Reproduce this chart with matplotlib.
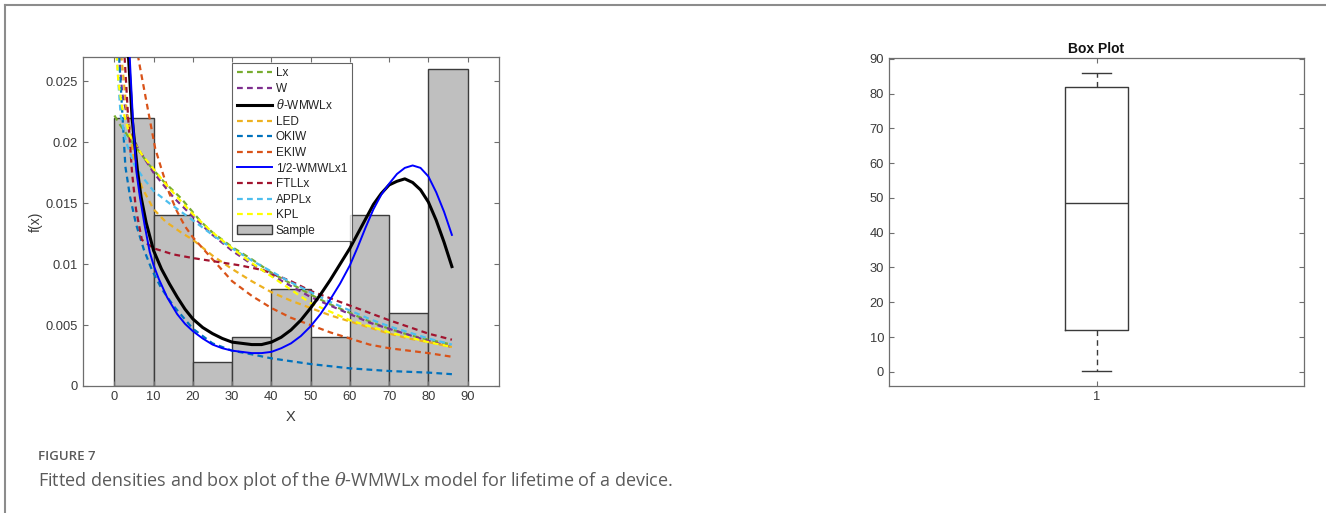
import numpy as np
import matplotlib
matplotlib.use("Agg")
import matplotlib.pyplot as plt
from matplotlib.lines import Line2D
from matplotlib.patches import Patch

plt.rcParams["font.family"] = ["Liberation Sans", "DejaVu Sans"]
plt.rcParams["mathtext.fontset"] = "dejavuserif"

# lifetimes of 50 devices
lifetimes = [0.1, 0.2, 1, 1, 1, 1, 1, 2, 3, 6, 7, 11, 12, 18, 18, 18, 18, 18,
             21, 32, 36, 40, 45, 46, 47, 50, 55, 60, 63, 63, 67, 67, 67, 67,
             72, 75, 79, 82, 82, 83, 84, 84, 84, 85, 85, 85, 85, 85, 86, 86]
bin_edges = [0, 10, 20, 30, 40, 50, 60, 70, 80, 90]

# fitted densities, sampled along x
lx_x = [0, 1.5, 5, 9, 12.5, 17, 22, 25, 30, 35, 40, 45, 50, 55, 60, 65, 70, 75, 80, 86]
lx_y = [0.0222, 0.0214, 0.0198, 0.0181, 0.0168, 0.0154, 0.0135, 0.0126, 0.0114, 0.0104,
        0.0093, 0.0084, 0.0075, 0.0067, 0.0060, 0.0053, 0.0047, 0.0042, 0.0038, 0.0034]

w_x = [1.0, 2, 4, 6, 10, 15, 20, 25, 30, 35, 40, 45, 50, 55, 60, 65, 70, 75, 80, 86]
w_y = [0.028, 0.024, 0.021, 0.0195, 0.0175, 0.0155, 0.0139, 0.0124, 0.0111, 0.0100,
       0.0091, 0.0082, 0.0073, 0.0066, 0.0059, 0.0052, 0.0047, 0.0042, 0.0037, 0.0032]

theta_x = [3.3, 3.6, 4.5, 5.9, 6.8, 8.1, 10, 12, 14, 16, 18, 20, 22.5, 25, 27.5, 30,
           32.5, 35, 37.5, 40, 42.5, 45, 47.5, 50, 52.5, 55, 57.5, 60, 62, 64, 66, 68,
           70, 72, 74, 76, 78, 80, 82, 84, 86]
theta_y = [0.029, 0.027, 0.022, 0.0176, 0.0155, 0.0134, 0.0111, 0.0096, 0.0084, 0.0073,
           0.0063, 0.0055, 0.0048, 0.0043, 0.0039, 0.0036, 0.0035, 0.0034, 0.0034, 0.0036,
           0.0040, 0.0046, 0.0054, 0.0064, 0.0075, 0.0087, 0.0100, 0.0113, 0.0125, 0.0137,
           0.0149, 0.0158, 0.0165, 0.0168, 0.0170, 0.0167, 0.0161, 0.0151, 0.0136, 0.0118,
           0.0098]

led_x = [1.5, 3, 5, 7, 10, 13, 17, 20, 25, 30, 35, 40, 45, 50, 55, 60, 65, 70, 75, 80, 86]
led_y = [0.028, 0.023, 0.0185, 0.0163, 0.0145, 0.0135, 0.0126, 0.0120, 0.0107, 0.0096,
         0.0086, 0.0077, 0.0070, 0.0064, 0.0058, 0.0053, 0.0048, 0.0043, 0.0039, 0.0036, 0.0032]

okiw_x = [1.2, 2, 2.8, 4, 5.5, 7.5, 9.6, 12, 15, 20, 25, 30, 35, 40, 50, 60, 70, 80, 86]
okiw_y = [0.027, 0.0225, 0.018, 0.0155, 0.0133, 0.0112, 0.0095, 0.0080, 0.0066, 0.0047,
          0.0035, 0.0029, 0.0026, 0.00227, 0.0018, 0.00145, 0.00123, 0.0011, 0.00097]

ekiw_x = [5.5, 6.5, 8.3, 10.4, 12, 14, 16, 18, 20, 25, 30, 35, 40, 45, 50, 55, 60, 65,
          70, 75, 80, 86]
ekiw_y = [0.028, 0.0262, 0.0231, 0.0195, 0.0178, 0.0158, 0.0143, 0.0131, 0.0122, 0.0104,
          0.0086, 0.0074, 0.0064, 0.0056, 0.0050, 0.0044, 0.0039, 0.0034, 0.0031, 0.0029,
          0.0027, 0.0024]

half_x = [3.6, 3.9, 4.7, 5.6, 6.5, 7.7, 9, 10, 11.3, 13.4, 16, 18, 20, 22.5, 25, 27.5,
          30, 32.5, 35, 37.5, 40, 42.5, 45, 47.5, 50, 52.5, 55, 57.5, 60, 62, 64, 66, 68,
          70, 72, 74, 76, 78, 80, 82, 84, 86]
half_y = [0.029, 0.027, 0.022, 0.0176, 0.0155, 0.0132, 0.0110, 0.0099, 0.0088, 0.0073,
          0.0059, 0.0051, 0.0045, 0.0039, 0.0034, 0.0031, 0.0029, 0.0028, 0.0027, 0.0027,
          0.0028, 0.0031, 0.0035, 0.0041, 0.0049, 0.0059, 0.0071, 0.0084, 0.0099, 0.0114,
          0.0130, 0.0145, 0.0157, 0.0166, 0.0174, 0.0179, 0.0181, 0.0179, 0.0172, 0.0159,
          0.0143, 0.0124]

ftllx_x = [2.6, 3.5, 4.5, 5.5, 7, 10, 15, 20, 26, 32, 38, 45, 50, 60, 70, 80, 86]
ftllx_y = [0.027, 0.022, 0.0175, 0.0145, 0.0120, 0.0113, 0.0108, 0.0105, 0.0102, 0.0099,
           0.0095, 0.0086, 0.0078, 0.0066, 0.0054, 0.0043, 0.0038]

appl_x = [0.6, 1.0, 1.6, 3, 5, 7.5, 10, 14, 17, 20, 25, 30, 35, 40, 45, 50, 55, 60, 65,
          70, 75, 80, 86]
appl_y = [0.028, 0.025, 0.0222, 0.0200, 0.0182, 0.0170, 0.0160, 0.0150, 0.0143, 0.0136,
          0.0124, 0.0113, 0.0103, 0.0094, 0.0085, 0.0077, 0.0069, 0.0062, 0.0055, 0.0049,
          0.0044, 0.0039, 0.0034]

kpl_x = [0.4, 1, 2, 4, 7, 10, 13, 16, 20, 25, 30, 35, 40, 45, 50, 55, 60, 65, 70, 75, 80, 86]
kpl_y = [0.028, 0.025, 0.0228, 0.0205, 0.0190, 0.0178, 0.0166, 0.0155, 0.0141, 0.0126,
         0.0113, 0.0101, 0.0090, 0.0079, 0.0068, 0.0061, 0.0054, 0.0049, 0.0044, 0.0040,
         0.0036, 0.0032]

fig = plt.figure(figsize=(13.26, 5.13), dpi=100)

# outer frame of the figure panel
fig.add_artist(Line2D([4.5 / 1326, 1.0], [1 - 5 / 513, 1 - 5 / 513], color="#8c8c8c", lw=1.5))
fig.add_artist(Line2D([4.5 / 1326, 4.5 / 1326], [0, 1 - 5 / 513], color="#8c8c8c", lw=1.5))

axis_col = "#6e6e6e"
text_col = "#3a3a3a"


def style_axes(ax):
    for s in ax.spines.values():
        s.set_color(axis_col)
        s.set_linewidth(0.9)
    ax.tick_params(direction="in", length=3.5, width=0.8, colors=axis_col,
                   labelcolor=text_col, labelsize=9.3, top=True, right=True)


ax1 = fig.add_axes([83 / 1326, 127 / 513, 416 / 1326, 329 / 513])
ax1.hist(lifetimes, bins=bin_edges, density=True, color="#bfbfbf",
         edgecolor="#3c3c3c", linewidth=1.0, zorder=1)

dash = (2.6, 1.9)
curves = [
    (lx_x, lx_y, "#77AC30", "Lx", True, 1.6),
    (w_x, w_y, "#7E2F8E", "W", True, 1.6),
    (theta_x, theta_y, "#000000", r"$\theta$-WMWLx", False, 2.2),
    (led_x, led_y, "#EDB120", "LED", True, 1.6),
    (okiw_x, okiw_y, "#0072BD", "OKIW", True, 1.6),
    (ekiw_x, ekiw_y, "#D95319", "EKIW", True, 1.6),
    (half_x, half_y, "#0000FF", "1/2-WMWLx1", False, 1.4),
    (ftllx_x, ftllx_y, "#A2142F", "FTLLx", True, 1.6),
    (appl_x, appl_y, "#4DBEEE", "APPLx", True, 1.6),
    (kpl_x, kpl_y, "#FFFF00", "KPL", True, 1.6),
]
handles = []
for xs, ys, col, lab, dashed, lw in curves:
    if dashed:
        ln, = ax1.plot(xs, ys, color=col, lw=lw, dashes=dash, label=lab, zorder=2)
    else:
        ln, = ax1.plot(xs, ys, color=col, lw=lw, label=lab, zorder=3)
    handles.append(ln)
handles.append(Patch(facecolor="#bfbfbf", edgecolor="#3c3c3c", lw=1.0, label="Sample"))

ax1.set_xlim(-8, 98)
ax1.set_ylim(0, 0.027)
ax1.set_xticks(range(0, 100, 10))
ax1.set_yticks([0, 0.005, 0.01, 0.015, 0.02, 0.025])
ax1.set_yticklabels(["0", "0.005", "0.01", "0.015", "0.02", "0.025"])
style_axes(ax1)
ax1.set_xlabel("X", fontsize=10.5, color=text_col, labelpad=5)
ax1.set_ylabel("f(x)", fontsize=10, color=text_col, labelpad=2)

leg = ax1.legend(handles=handles, loc="upper left", bbox_to_anchor=(0.358, 0.983),
                 borderaxespad=0, fontsize=8.5, frameon=True, fancybox=False,
                 handlelength=3.0, handletextpad=0.3, labelspacing=0.3,
                 borderpad=0.4)
leg.get_frame().set_edgecolor("#3c3c3c")
leg.get_frame().set_linewidth(0.8)
for t in leg.get_texts():
    t.set_color("#222222")

# box plot with quartiles taken as midpoint percentiles
q1, med, q3 = np.percentile(lifetimes, [25, 50, 75], method="hazen")
stats = [dict(med=med, q1=q1, q3=q3, whislo=min(lifetimes), whishi=max(lifetimes),
              fliers=[], label="1")]

ax2 = fig.add_axes([889 / 1326, 127 / 513, 415 / 1326, 327.7 / 513])
box_col = "#3a3a3a"
ax2.bxp(stats, positions=[1], widths=0.15, capwidths=0.072, showfliers=False,
        boxprops=dict(color=box_col, lw=1.0),
        medianprops=dict(color=box_col, lw=1.0),
        whiskerprops=dict(color=box_col, lw=1.0, dashes=(4, 3)),
        capprops=dict(color=box_col, lw=1.0))
ax2.set_xlim(0.5, 1.5)
ax2.set_ylim(-4.1, 90.2)
ax2.set_yticks(range(0, 100, 10))
ax2.set_xticks([1])
ax2.set_xticklabels(["1"])
style_axes(ax2)
ax2.set_title("Box Plot", fontsize=10, fontweight="bold", color="#111111", pad=4)

cap_col = "#5a5a5a"
fig.text(38 / 1326, 1 - 457 / 513, "FIGURE 7", fontsize=9.5, color=cap_col,
         family=["Open Sans", "DejaVu Sans"], fontweight="semibold", va="center")
fig.text(38 / 1326, 1 - 481 / 513,
         r"Fitted densities and box plot of the $\theta$-WMWLx model for lifetime of a device.",
         fontsize=13, color=cap_col, family=["Open Sans", "DejaVu Sans"], va="center")

fig.savefig("out.png", dpi=100)
